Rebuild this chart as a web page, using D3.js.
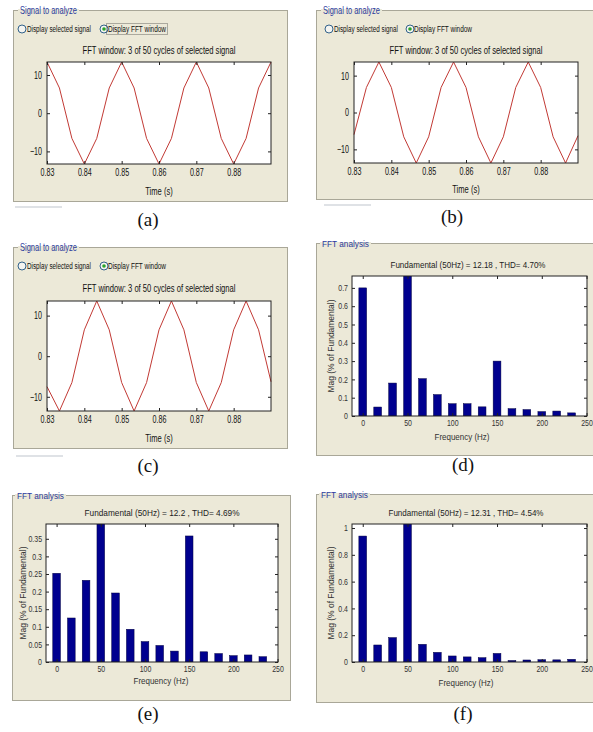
<!DOCTYPE html>
<html>
<head>
<meta charset="utf-8">
<script src="https://cdn.jsdelivr.net/npm/d3@7"></script>
<style>
  body { margin: 0; background: #fff; }
  svg text { font-family: "Liberation Sans", Arial, sans-serif; }
</style>
</head>
<body>
<svg id="fig" width="593" height="732"></svg>
<script>
//-----------------------------------------------------------------------
// data

// sample times of the 3 cycle FFT window (s)
var time_s = [0.83, 0.83333, 0.83667, 0.84, 0.84333, 0.84667, 0.85, 0.85333, 0.85667, 0.86,
              0.86333, 0.86667, 0.87, 0.87333, 0.87667, 0.88, 0.88333, 0.88667, 0.89];

// selected signal for (a), (b), (c)
var signal_a = [13.4, 6.6, -6.6, -13.3, -6.6, 6.6, 13.4, 6.6, -6.6, -13.3,
                -6.6, 6.6, 13.4, 6.6, -6.6, -13.3, -6.6, 6.6, 13.4];
var signal_b = [-6.0, 6.8, 13.7, 6.8, -6.6, -13.7, -6.6, 6.8, 13.7, 6.8,
                -6.6, -13.7, -6.6, 6.8, 13.7, 6.8, -6.6, -13.7, -6.3];
var signal_c = [-7.5, -13.5, -6.5, 6.5, 13.6, 6.5, -6.5, -13.5, -6.5, 6.5,
                13.6, 6.5, -6.5, -13.5, -6.5, 6.5, 13.6, 6.5, -6.3];

var time_ticks = [0.83, 0.84, 0.85, 0.86, 0.87, 0.88];
var signal_ticks = [-10, 0, 10];
var signal_title = "FFT window: 3 of 50 cycles of selected signal";

// harmonic spectrum for (d), (e), (f)
var freq_hz = [0, 16.67, 33.33, 50, 66.67, 83.33, 100, 116.67, 133.33, 150,
               166.67, 183.33, 200, 216.67, 233.33];
var mag_d = [0.70, 0.049, 0.18, 1.0, 0.204, 0.117, 0.067, 0.067, 0.05, 0.30,
             0.04, 0.035, 0.024, 0.027, 0.017];
var mag_e = [0.252, 0.125, 0.232, 1.0, 0.196, 0.093, 0.058, 0.047, 0.031, 0.358,
             0.029, 0.024, 0.018, 0.02, 0.015];
var mag_f = [0.94, 0.127, 0.182, 1.05, 0.132, 0.072, 0.045, 0.038, 0.032, 0.064,
             0.011, 0.015, 0.017, 0.016, 0.02];

var freq_ticks = [0, 50, 100, 150, 200, 250];
var mag_ticks_d = [0, 0.1, 0.2, 0.3, 0.4, 0.5, 0.6, 0.7];
var mag_ticks_e = [0, 0.05, 0.1, 0.15, 0.2, 0.25, 0.3, 0.35];
var mag_ticks_f = [0, 0.2, 0.4, 0.6, 0.8, 1];
var mag_limits = [0.765, 0.392, 1.03];

var fft_titles = ["Fundamental (50Hz) = 12.18 , THD= 4.70%",
                  "Fundamental (50Hz) = 12.2 , THD= 4.69%",
                  "Fundamental (50Hz) = 12.31 , THD= 4.54%"];

//-----------------------------------------------------------------------

var svg = d3.select("#fig");
var panel_fill = "#ece9d8";
var panel_line = "#a9a798";
var caption_blue = "#2a3a9c";
var clip_no = 0;

// the gui font is a narrow one, squeeze the glyphs horizontally
function condense(sel, factor)
{
  sel.each(function() {
    var len = this.getComputedTextLength();
    d3.select(this)
      .attr("textLength", len * factor)
      .attr("lengthAdjust", "spacingAndGlyphs");
  });
}

function groupBox(box, caption, cap_x, cap_w, cap_size)
{
  // beige panel with a windows style caption in the top line
  svg.append("rect")
    .attr("x", box.x + 0.5).attr("y", box.y + 0.5)
    .attr("width", box.w).attr("height", box.h)
    .attr("fill", panel_fill)
    .attr("stroke", panel_line);

  svg.append("rect")
    .attr("x", cap_x - 2).attr("y", box.y - 1)
    .attr("width", cap_w + 4).attr("height", 3)
    .attr("fill", panel_fill);

  svg.append("text")
    .attr("x", cap_x).attr("y", box.y + 0.5)
    .attr("dy", "0.35em")
    .attr("font-size", cap_size)
    .attr("textLength", cap_w)
    .attr("lengthAdjust", "spacingAndGlyphs")
    .attr("fill", caption_blue)
    .text(caption);
}

function radio(x, y, label, text_x, text_w, selected, focus)
{
  svg.append("circle")
    .attr("cx", x).attr("cy", y).attr("r", 4)
    .attr("fill", "#f4f4f0")
    .attr("stroke", "#1c5180").attr("stroke-width", 0.9);
  if(selected)
  {
    svg.append("circle")
      .attr("cx", x).attr("cy", y).attr("r", 1.8)
      .attr("fill", "#2aa42a");
  }
  svg.append("text")
    .attr("x", text_x).attr("y", y)
    .attr("dy", "0.35em")
    .attr("font-size", 8.5)
    .attr("textLength", text_w)
    .attr("lengthAdjust", "spacingAndGlyphs")
    .attr("fill", "#111")
    .text(label);
  if(focus)
  {
    svg.append("rect")
      .attr("x", text_x - 1.5).attr("y", y - 5.5)
      .attr("width", text_w + 3).attr("height", 11)
      .attr("fill", "none")
      .attr("stroke", "#333").attr("stroke-width", 0.7)
      .attr("stroke-dasharray", "1,1");
  }
}

function boxAxes(g, x, y, xticks, yticks, xfmt, yfmt, font_size, pad, label_color, squeeze)
{
  var w = x.range()[1], h = y.range()[0];

  g.append("rect")
    .attr("x", 0).attr("y", 0)
    .attr("width", w).attr("height", h)
    .attr("fill", "none")
    .attr("stroke", "#222").attr("stroke-width", 1);

  // matlab style inward ticks on all four sides
  var bottom = g.append("g").attr("transform", "translate(0," + h + ")")
    .call(d3.axisBottom(x).tickValues(xticks).tickFormat(xfmt)
      .tickSizeInner(-3).tickSizeOuter(0).tickPadding(pad));
  var left = g.append("g")
    .call(d3.axisLeft(y).tickValues(yticks).tickFormat(yfmt)
      .tickSizeInner(-3).tickSizeOuter(0).tickPadding(pad));
  var top = g.append("g")
    .call(d3.axisTop(x).tickValues(xticks).tickFormat("")
      .tickSizeInner(-3).tickSizeOuter(0));
  var right = g.append("g").attr("transform", "translate(" + w + ",0)")
    .call(d3.axisRight(y).tickValues(yticks).tickFormat("")
      .tickSizeInner(-3).tickSizeOuter(0));

  [bottom, left, top, right].forEach(function(a) {
    a.select(".domain").remove();
    a.selectAll("line").attr("stroke", "#222");
    a.attr("font-family", null);
    a.selectAll("text")
      .attr("font-size", font_size)
      .attr("fill", label_color);
  });
  condense(bottom.selectAll("text"), squeeze);
  condense(left.selectAll("text"), squeeze);
}

function clipFor(g, w, h)
{
  clip_no += 1;
  var id = "clip" + clip_no;
  g.append("clipPath").attr("id", id)
    .append("rect").attr("width", w).attr("height", h);
  return "url(#" + id + ")";
}

function panelLabel(x, y, txt)
{
  svg.append("text")
    .attr("x", x).attr("y", y)
    .attr("text-anchor", "middle")
    .attr("font-size", 19)
    .style("font-family", "'Liberation Serif', 'Times New Roman', serif")
    .attr("fill", "#111")
    .text(txt);
}

//-----------------------------------------------------------------------

function drawSignalPanel(p, values)
{
  groupBox(p.box, "Signal to analyze", p.box.x + 7, 57, 10.5);

  radio(p.box.x + p.r1, p.radio_y, "Display selected signal", p.box.x + p.r1 + 5, 64, false, false);
  radio(p.box.x + p.r2, p.radio_y, "Display FFT window", p.box.x + p.r2 + 4, 58, true, p.focus);

  var w = p.plot.x1 - p.plot.x0, h = p.plot.y1 - p.plot.y0;
  var cx = p.plot.x0 + w / 2;

  svg.append("text")
    .attr("x", cx).attr("y", p.title_y).attr("dy", "0.35em")
    .attr("text-anchor", "middle")
    .attr("font-size", 10.5)
    .attr("textLength", 153).attr("lengthAdjust", "spacingAndGlyphs")
    .attr("fill", "#111")
    .text(signal_title);

  var g = svg.append("g").attr("transform", "translate(" + p.plot.x0 + "," + p.plot.y0 + ")");
  g.append("rect").attr("width", w).attr("height", h).attr("fill", "#fff");

  var x = d3.scaleLinear().domain([time_s[0], time_s[time_s.length - 1]]).range([0, w]);
  var y = d3.scaleLinear().domain(d3.extent(values)).range([h, 0]);

  var line = d3.line()
    .x(function(d, i) { return x(time_s[i]); })
    .y(function(d) { return y(d); });

  g.append("path")
    .datum(values)
    .attr("d", line)
    .attr("fill", "none")
    .attr("stroke", "#c23a35")
    .attr("stroke-width", 1);

  boxAxes(g, x, y, time_ticks, signal_ticks, d3.format(".2f"), d3.format("d"), 10.5, 5, "#111", 0.68);

  var xl = svg.append("text")
    .attr("x", cx).attr("y", p.xlabel_y).attr("dy", "0.35em")
    .attr("text-anchor", "middle")
    .attr("font-size", 10.5)
    .attr("fill", "#111")
    .text("Time (s)");
  condense(xl, 0.72);

  // leftover strip of a hidden control under the panel
  svg.append("rect")
    .attr("x", p.strip[0]).attr("y", p.strip[1])
    .attr("width", 47).attr("height", 2)
    .attr("fill", "#dfe2e6");

  panelLabel(p.label[0], p.label[1], p.label[2]);
}

//-----------------------------------------------------------------------

function drawFftPanel(p, mags, ticks, ymax, title)
{
  groupBox(p.box, "FFT analysis", p.cap_x, 47, 9);

  var w = p.plot.x1 - p.plot.x0, h = p.plot.y1 - p.plot.y0;

  svg.append("text")
    .attr("x", p.title_x).attr("y", p.title_y).attr("dy", "0.35em")
    .attr("text-anchor", "middle")
    .attr("font-size", 8.5)
    .attr("textLength", 155).attr("lengthAdjust", "spacingAndGlyphs")
    .attr("fill", "#222")
    .text(title);

  var g = svg.append("g").attr("transform", "translate(" + p.plot.x0 + "," + p.plot.y0 + ")");
  g.append("rect").attr("width", w).attr("height", h).attr("fill", "#fff");

  var x = d3.scaleLinear().domain([-12, 250.5]).range([0, w]);
  var y = d3.scaleLinear().domain([0, ymax]).range([h, 0]);
  var step = freq_hz[1] - freq_hz[0];
  var bw = x(step * 0.52) - x(0);

  g.append("g")
    .attr("clip-path", clipFor(g, w, h))
    .selectAll("rect")
    .data(mags)
    .enter()
    .append("rect")
    .attr("x", function(d, i) { return x(freq_hz[i]) - bw / 2; })
    .attr("y", function(d) { return y(d); })
    .attr("width", bw)
    .attr("height", function(d) { return h - y(d); })
    .attr("fill", "#00008f")
    .attr("stroke", "#000040")
    .attr("stroke-width", 0.5);

  boxAxes(g, x, y, freq_ticks, ticks, d3.format("d"), function(v) { return String(v); }, 8.5, 4, "#333", 0.82);

  svg.append("text")
    .attr("x", p.xlabel_x).attr("y", p.xlabel_y).attr("dy", "0.35em")
    .attr("text-anchor", "middle")
    .attr("font-size", 9)
    .attr("textLength", 55).attr("lengthAdjust", "spacingAndGlyphs")
    .attr("fill", "#333")
    .text("Frequency (Hz)");

  svg.append("text")
    .attr("transform", "translate(" + p.ylabel_x + "," + (p.plot.y0 + h / 2) + ") rotate(-90)")
    .attr("dy", "0.35em")
    .attr("text-anchor", "middle")
    .attr("font-size", 9)
    .attr("textLength", 93).attr("lengthAdjust", "spacingAndGlyphs")
    .attr("fill", "#333")
    .text("Mag (% of Fundamental)");

  panelLabel(p.label[0], p.label[1], p.label[2]);
}

//-----------------------------------------------------------------------

drawSignalPanel({
  box: {x: 13, y: 10, w: 274, h: 191},
  plot: {x0: 47, x1: 271, y0: 62, y1: 164},
  r1: 9, r2: 91, radio_y: 29, focus: true,
  title_y: 50, xlabel_y: 191,
  strip: [15, 206], label: [148, 226, "(a)"]
}, signal_a);

drawSignalPanel({
  box: {x: 316, y: 10, w: 290, h: 189},
  plot: {x0: 354, x1: 578, y0: 62, y1: 163},
  r1: 13, r2: 94, radio_y: 29, focus: false,
  title_y: 50, xlabel_y: 189,
  strip: [324, 204], label: [452, 223, "(b)"]
}, signal_b);

drawSignalPanel({
  box: {x: 13, y: 247, w: 274, h: 201},
  plot: {x0: 47, x1: 271, y0: 301, y1: 411},
  r1: 9, r2: 91, radio_y: 266, focus: false,
  title_y: 288, xlabel_y: 438,
  strip: [16, 455], label: [148, 472, "(c)"]
}, signal_c);

drawFftPanel({
  box: {x: 316, y: 243, w: 290, h: 212},
  plot: {x0: 352, x1: 587, y0: 276, y1: 416},
  cap_x: 322, title_x: 468, title_y: 265.5,
  xlabel_x: 462, xlabel_y: 436.5, ylabel_x: 331,
  label: [463, 471, "(d)"]
}, mag_d, mag_ticks_d, mag_limits[0], fft_titles[0]);

drawFftPanel({
  box: {x: 12, y: 495, w: 278, h: 205},
  plot: {x0: 46, x1: 278, y0: 524, y1: 662},
  cap_x: 17, title_x: 162, title_y: 513.5,
  xlabel_x: 161, xlabel_y: 681, ylabel_x: 22.5,
  label: [148, 720, "(e)"]
}, mag_e, mag_ticks_e, mag_limits[1], fft_titles[1]);

drawFftPanel({
  box: {x: 316, y: 494, w: 290, h: 208},
  plot: {x0: 352, x1: 587, y0: 524, y1: 662},
  cap_x: 321, title_x: 466, title_y: 513.5,
  xlabel_x: 466, xlabel_y: 682.5, ylabel_x: 331,
  label: [463, 720, "(f)"]
}, mag_f, mag_ticks_f, mag_limits[2], fft_titles[2]);

</script>
</body>
</html>
